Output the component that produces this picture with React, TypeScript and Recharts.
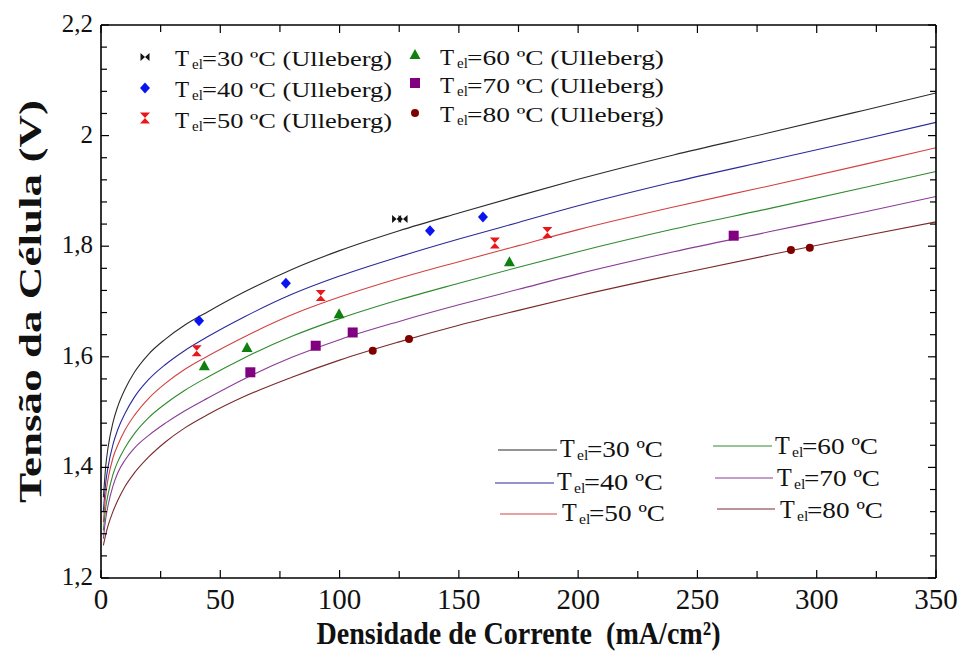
import React from "react";
import { ComposedChart, Line, Scatter, XAxis, YAxis, Label } from "recharts";

const FONT = "Liberation Serif, Times New Roman, Times, serif";

// current density grid for the model curves (mA/cm²)
const density = [1, 2, 3, 5, 7, 10, 14, 20, 27, 35, 45, 60, 80, 100, 125, 150, 175, 200, 240, 280, 320, 350];

// model cell voltage (V) at each density, one list per electrolyte temperature
const model30 = [1.346, 1.403, 1.437, 1.481, 1.51, 1.541, 1.572, 1.605, 1.632, 1.657, 1.682, 1.717, 1.758, 1.792, 1.828, 1.86, 1.891, 1.921, 1.965, 2.005, 2.046, 2.077];
const model40 = [1.321, 1.373, 1.402, 1.441, 1.468, 1.497, 1.527, 1.559, 1.586, 1.611, 1.637, 1.672, 1.713, 1.746, 1.781, 1.813, 1.843, 1.873, 1.916, 1.955, 1.994, 2.024];
const model50 = [1.301, 1.351, 1.38, 1.417, 1.44, 1.467, 1.494, 1.525, 1.552, 1.577, 1.602, 1.636, 1.676, 1.708, 1.742, 1.772, 1.801, 1.83, 1.871, 1.909, 1.948, 1.978];
const model60 = [1.286, 1.328, 1.352, 1.387, 1.41, 1.435, 1.461, 1.49, 1.515, 1.539, 1.564, 1.598, 1.637, 1.669, 1.703, 1.733, 1.762, 1.79, 1.831, 1.868, 1.906, 1.935];
const model70 = [1.271, 1.308, 1.332, 1.366, 1.39, 1.413, 1.435, 1.458, 1.48, 1.502, 1.526, 1.56, 1.599, 1.631, 1.664, 1.694, 1.722, 1.75, 1.79, 1.826, 1.862, 1.89];
const model80 = [1.259, 1.279, 1.295, 1.32, 1.34, 1.365, 1.39, 1.419, 1.446, 1.471, 1.496, 1.528, 1.563, 1.594, 1.627, 1.657, 1.684, 1.71, 1.748, 1.784, 1.819, 1.844];

// Ulleberg measurements: density and voltage
const ull30X = [123.9, 126.6];
const ull30V = [1.849, 1.849];
const ull40X = [41.1, 77.5, 137.9, 160.1];
const ull40V = [1.665, 1.733, 1.828, 1.853];
const ull50X = [40.1, 92.1, 165.1, 187.1];
const ull50V = [1.611, 1.711, 1.806, 1.825];
const ull60X = [43.3, 61.2, 99.8, 171.2];
const ull60V = [1.583, 1.616, 1.677, 1.771];
const ull70X = [62.6, 90.0, 105.5, 265.2];
const ull70V = [1.572, 1.62, 1.644, 1.819];
const ull80X = [113.9, 129.1, 289.2, 297.1];
const ull80V = [1.611, 1.632, 1.793, 1.797];

const xTicks = [0, 25, 50, 75, 100, 125, 150, 175, 200, 225, 250, 275, 300, 325, 350];
const yTicks = Array.from({ length: 26 }, (_, i) => Number((1.2 + i * 0.04).toFixed(2)));

const pairs = (xs: number[], vs: number[]) => xs.map((x, i) => ({ x, v: vs[i] }));

const lineColors = ["#2b2b2b", "#2a2a9a", "#d24242", "#2f8a2f", "#8a3c96", "#7a2a2a"];
const markColors = ["#111111", "#0a14f0", "#e81818", "#0f800f", "#800080", "#800000"];

type P = { cx?: number; cy?: number; fill?: string };

const Bowtie = ({ cx = 0, cy = 0, fill }: P) => (
  <path d={`M${cx - 4.5},${cy - 4}L${cx},${cy}L${cx - 4.5},${cy + 4}ZM${cx + 4.5},${cy - 4}L${cx},${cy}L${cx + 4.5},${cy + 4}Z`} fill={fill} />
);
const Diamond = ({ cx = 0, cy = 0, fill }: P) => (
  <path d={`M${cx},${cy - 5.5}L${cx + 5},${cy}L${cx},${cy + 5.5}L${cx - 5},${cy}Z`} fill={fill} />
);
const Hourglass = ({ cx = 0, cy = 0, fill }: P) => (
  <path d={`M${cx - 5},${cy - 5.5}L${cx + 5},${cy - 5.5}L${cx},${cy}ZM${cx - 5},${cy + 5.5}L${cx + 5},${cy + 5.5}L${cx},${cy}Z`} fill={fill} />
);
const Triangle = ({ cx = 0, cy = 0, fill }: P) => (
  <path d={`M${cx},${cy - 6}L${cx + 5.5},${cy + 4}L${cx - 5.5},${cy + 4}Z`} fill={fill} />
);
const Square = ({ cx = 0, cy = 0, fill }: P) => <rect x={cx - 5} y={cy - 5} width={10} height={10} fill={fill} />;
const Dot = ({ cx = 0, cy = 0, fill }: P) => <circle cx={cx} cy={cy} r={4} fill={fill} />;

const shapes = [Bowtie, Diamond, Hourglass, Triangle, Square, Dot];

const curves = [model30, model40, model50, model60, model70, model80];
const measured = [
  pairs(ull30X, ull30V),
  pairs(ull40X, ull40V),
  pairs(ull50X, ull50V),
  pairs(ull60X, ull60V),
  pairs(ull70X, ull70V),
  pairs(ull80X, ull80V),
];
const temps = ["30", "40", "50", "60", "70", "80"];

const fmtY = (v: number) => String(Math.round(v * 10) / 10).replace(".", ",");
const isMajorY = (v: number) => Math.abs(v * 5 - Math.round(v * 5)) < 1e-6;

// inward ticks on all four sides of the frame
const BottomTick = ({ x, y, payload }: any) => {
  const major = payload.value % 50 === 0;
  return (
    <g>
      <line x1={x} x2={x} y1={y} y2={y - (major ? 8 : 7)} stroke="#000" strokeWidth={1.2} />
      {major && (
        <text x={x} y={y + 31} textAnchor="middle" fontSize={29} fontFamily={FONT} fill="#111">
          {payload.value}
        </text>
      )}
    </g>
  );
};
const TopTick = ({ x, y, payload }: any) => (
  <line x1={x} x2={x} y1={y} y2={y + (payload.value % 50 === 0 ? 8 : 7)} stroke="#000" strokeWidth={1.2} />
);
const LeftTick = ({ x, y, payload }: any) => {
  const major = isMajorY(payload.value);
  return (
    <g>
      <line x1={x} x2={x + (major ? 8 : 6)} y1={y} y2={y} stroke="#000" strokeWidth={1.2} />
      {major && (
        <text x={x - 8} y={y + 7} textAnchor="end" fontSize={25} fontFamily={FONT} fill="#111">
          {fmtY(payload.value)}
        </text>
      )}
    </g>
  );
};
const RightTick = ({ x, y, payload }: any) => (
  <line x1={x} x2={x - (isMajorY(payload.value) ? 8 : 6)} y1={y} y2={y} stroke="#000" strokeWidth={1.2} />
);

// "T el=30 ºC..." with the subscript drawn as its own run
const TempText = ({ x, y, temp, tail, size, restWidth }: any) => (
  <g fontFamily={FONT} fill="#111">
    <text x={x} y={y} fontSize={size * 1.05}>T</text>
    <text x={x + 17} y={y + 3} fontSize={size * 0.68}>el</text>
    <text x={x + 27} y={y} fontSize={size} textLength={restWidth} lengthAdjust="spacingAndGlyphs">
      {`=${temp} ºC${tail}`}
    </text>
  </g>
);

// top-left: measured points
const pointLegend = [
  { mx: 145, my: 57, tx: 175, ty: 66 },
  { mx: 145, my: 88, tx: 175, ty: 97 },
  { mx: 145, my: 118, tx: 175, ty: 128 },
  { mx: 415, my: 55, tx: 440, ty: 65 },
  { mx: 415, my: 83, tx: 440, ty: 93 },
  { mx: 415, my: 113, tx: 440, ty: 122 },
];
// bottom-right: model curves
const curveLegend = [
  { x1: 498, x2: 557, ly: 450, tx: 560, ty: 457, end: 663 },
  { x1: 495, x2: 554, ly: 483, tx: 557, ty: 490, end: 663 },
  { x1: 500, x2: 557, ly: 514, tx: 562, ty: 521, end: 665 },
  { x1: 713, x2: 772, ly: 446, tx: 775, ty: 454, end: 878 },
  { x1: 715, x2: 773, ly: 478, tx: 777, ty: 486, end: 880 },
  { x1: 717, x2: 775, ly: 509, tx: 780, ty: 518, end: 883 },
];

const Legends = () => (
  <svg width={958} height={653} style={{ position: "absolute", left: 0, top: 0, pointerEvents: "none" }}>
    {pointLegend.map((p, i) => {
      const Shape = shapes[i];
      return (
        <g key={`p${i}`}>
          <Shape cx={p.mx} cy={p.my} fill={markColors[i]} />
          <TempText x={p.tx} y={p.ty} temp={temps[i]} tail=" (Ulleberg)" size={22} restWidth={p.tx === 175 ? 190 : 197} />
        </g>
      );
    })}
    {curveLegend.map((c, i) => (
      <g key={`c${i}`}>
        <line x1={c.x1} x2={c.x2} y1={c.ly} y2={c.ly} stroke={lineColors[i]} strokeWidth={1.2} />
        <TempText x={c.tx} y={c.ty} temp={temps[i]} tail="" size={23} restWidth={c.end - c.tx - 27} />
      </g>
    ))}
  </svg>
);

const frame = { stroke: "#000", strokeWidth: 1.6 };

export default function App() {
  return (
    <div style={{ position: "absolute", left: 0, top: 0, width: 958, height: 653, background: "#fff" }}>
      <ComposedChart width={958} height={653} margin={{ top: 20, right: 17, bottom: 35, left: 41 }}>
        <XAxis
          xAxisId="b"
          type="number"
          dataKey="x"
          domain={[0, 350]}
          ticks={xTicks}
          interval={0}
          height={40}
          tickSize={0}
          tickMargin={0}
          tick={<BottomTick />}
          axisLine={frame}
          allowDataOverflow
        >
          <Label
            content={({ viewBox }: any) => (
              <text
                x={viewBox.x + viewBox.width / 2}
                y={viewBox.y + 66}
                textAnchor="middle"
                fontSize={32}
                fontWeight="bold"
                fontFamily={FONT}
                fill="#111"
                textLength={404}
                lengthAdjust="spacingAndGlyphs"
              >
                {"Densidade de Corrente \u00a0(mA/cm²)"}
              </text>
            )}
          />
        </XAxis>
        <XAxis
          xAxisId="t"
          orientation="top"
          type="number"
          dataKey="x"
          domain={[0, 350]}
          ticks={xTicks}
          interval={0}
          height={5}
          tickSize={0}
          tickMargin={0}
          tick={<TopTick />}
          axisLine={frame}
          allowDataOverflow
        />
        <YAxis
          yAxisId="l"
          type="number"
          domain={[1.2, 2.2]}
          ticks={yTicks}
          interval={0}
          width={60}
          tickSize={0}
          tickMargin={0}
          tick={<LeftTick />}
          axisLine={frame}
          allowDataOverflow
        >
          <Label
            content={({ viewBox }: any) => {
              const cx = viewBox.x + viewBox.width - 60;
              const cy = viewBox.y + viewBox.height / 2;
              return (
                <text
                  x={cx}
                  y={cy}
                  transform={`rotate(-90 ${cx} ${cy})`}
                  textAnchor="middle"
                  fontSize={32}
                  fontWeight="bold"
                  fontFamily={FONT}
                  fill="#111"
                  textLength={403}
                  lengthAdjust="spacingAndGlyphs"
                >
                  Tensão da Célula (V)
                </text>
              );
            }}
          />
        </YAxis>
        <YAxis
          yAxisId="r"
          orientation="right"
          type="number"
          domain={[1.2, 2.2]}
          ticks={yTicks}
          interval={0}
          width={5}
          tickSize={0}
          tickMargin={0}
          tick={<RightTick />}
          axisLine={frame}
          allowDataOverflow
        />
        {curves.map((vals, i) => (
          <Line
            key={`m${i}`}
            xAxisId="b"
            yAxisId="l"
            data={pairs(density, vals)}
            dataKey="v"
            type="monotone"
            stroke={lineColors[i]}
            strokeWidth={1.1}
            dot={false}
            activeDot={false}
            isAnimationActive={false}
          />
        ))}
        {measured.map((pts, i) => {
          const Shape = shapes[i];
          return (
            <Scatter
              key={`u${i}`}
              xAxisId="b"
              yAxisId="l"
              data={pts}
              dataKey="v"
              fill={markColors[i]}
              shape={(props: any) => <Shape cx={props.cx} cy={props.cy} fill={markColors[i]} />}
              isAnimationActive={false}
            />
          );
        })}
      </ComposedChart>
      <Legends />
    </div>
  );
}
